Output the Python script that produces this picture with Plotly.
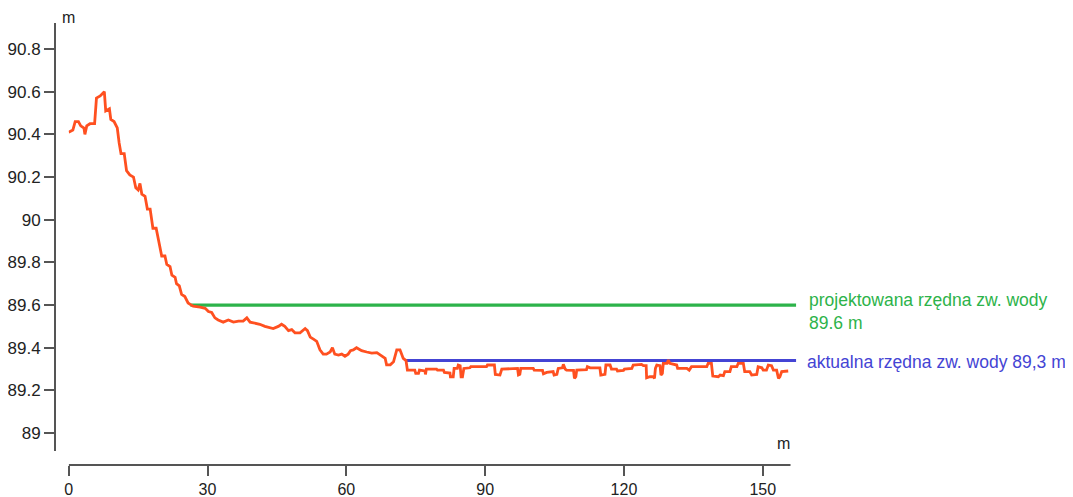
import plotly.graph_objects as go

# ---------------- data ----------------
profile_x = [
    0, 0.9, 1.4, 2.1, 2.6, 3.3, 3.5, 3.9, 4.6, 5.6, 6.0, 6.8, 7.7, 8.0, 8.8, 9.1, 9.8,
    10.5, 10.9, 11.3, 12.0, 12.5, 13.2, 14.0, 14.5, 15.0, 15.4, 15.8, 16.5, 17.0, 17.6,
    18.2, 18.9, 19.4, 19.7, 20.1, 20.8, 21.2, 21.9, 22.3, 23.0, 23.3, 23.9, 24.4, 25.1,
    25.8, 26.5,
    26.9, 28.4, 29.5, 30.2, 30.9, 31.6, 32.3, 33.4, 34.5, 35.6, 36.7, 37.7, 38.5, 39.2,
    40.3, 41.3, 42.4, 43.1, 44.2, 45.3, 46.0, 46.7, 47.5, 48.2, 48.9, 50.0, 51.1, 51.6,
    52.2, 52.9, 53.6, 54.3, 55.0, 55.7, 56.5, 57.0, 57.5, 58.3, 59.0, 59.7, 60.4, 60.9,
    61.5, 62.2, 63.3, 64.4, 65.5, 66.6, 67.6, 68.4, 68.7, 69.5, 70.2, 70.9, 71.6, 72.3,
    72.9, 73.2,
    74.8, 75.0, 75.6, 75.8, 77.0, 77.1, 77.3, 79.5, 79.7, 81.0, 81.2, 82.4, 82.5, 83.1,
    83.3, 84.0, 84.2, 84.6, 84.8, 85.1, 85.4, 86.7, 86.9, 90.3, 90.5, 92.0, 92.2, 93.2,
    93.6, 95.4, 97.0, 97.2, 97.5, 97.7, 100.4, 100.6, 102.4, 102.6, 103.3, 104.7, 104.9,
    105.5, 105.8, 106.7, 106.9, 107.3, 107.6, 109.1, 109.3, 109.6, 109.8, 111.9, 112.1,
    112.7, 114.8, 115.0, 115.9, 116.1, 117.0, 117.3, 118.4, 118.6, 119.9, 120.1, 121.7,
    122.0, 123.8, 124.2, 124.8, 124.9, 125.6, 126.4, 126.6, 126.8, 127.1, 127.8, 128.0,
    128.3, 128.5, 129.3, 129.6, 129.9, 131.4, 131.6, 133.6, 134.1, 134.6, 137.9, 138.2,
    138.9, 139.2, 140.4, 140.8, 141.5, 141.8, 142.9, 143.2, 144.4, 144.7, 145.8, 146.1,
    147.2, 147.6, 148.7, 149.0, 149.8, 150.1, 150.8, 151.2, 151.9, 152.3, 153.0, 153.4,
    153.7, 154.1, 155.5,
]
profile_y = [
    90.41, 90.42, 90.46, 90.46, 90.44, 90.43, 90.40, 90.44, 90.45, 90.45, 90.57, 90.58,
    90.60, 90.51, 90.52, 90.47, 90.46, 90.43, 90.36, 90.31, 90.31, 90.23, 90.21, 90.20,
    90.15, 90.14, 90.17, 90.12, 90.11, 90.05, 90.05, 89.96, 89.96, 89.90, 89.88, 89.83,
    89.83, 89.79, 89.78, 89.74, 89.73, 89.70, 89.69, 89.65, 89.64, 89.61, 89.60,
    89.595, 89.59, 89.585, 89.57, 89.565, 89.54, 89.53, 89.52, 89.53, 89.52, 89.525,
    89.525, 89.54, 89.52, 89.515, 89.51, 89.50, 89.495, 89.49, 89.50, 89.51, 89.50,
    89.48, 89.485, 89.47, 89.47, 89.49, 89.48, 89.45, 89.44, 89.43, 89.39, 89.37, 89.37,
    89.38, 89.40, 89.37, 89.366, 89.37, 89.36, 89.37, 89.386, 89.39, 89.40, 89.386,
    89.38, 89.375, 89.377, 89.364, 89.35, 89.32, 89.32, 89.334, 89.39, 89.39, 89.35,
    89.34, 89.295,
    89.295, 89.280, 89.280, 89.295, 89.291, 89.275, 89.300, 89.300, 89.295, 89.295,
    89.284, 89.281, 89.264, 89.264, 89.303, 89.303, 89.319, 89.316, 89.264, 89.264,
    89.303, 89.306, 89.311, 89.311, 89.319, 89.319, 89.275, 89.272, 89.300, 89.303,
    89.303, 89.272, 89.275, 89.303, 89.303, 89.295, 89.294, 89.278, 89.284, 89.288,
    89.272, 89.275, 89.303, 89.306, 89.322, 89.300, 89.295, 89.294, 89.256, 89.264,
    89.295, 89.297, 89.311, 89.306, 89.306, 89.272, 89.275, 89.319, 89.319, 89.300,
    89.300, 89.291, 89.294, 89.300, 89.303, 89.319, 89.322, 89.316, 89.316, 89.259,
    89.264, 89.264, 89.256, 89.303, 89.319, 89.316, 89.272, 89.280, 89.327, 89.327,
    89.342, 89.327, 89.319, 89.303, 89.303, 89.295, 89.311, 89.311, 89.327, 89.327,
    89.267, 89.264, 89.272, 89.269, 89.288, 89.288, 89.311, 89.311, 89.327, 89.327,
    89.288, 89.288, 89.272, 89.275, 89.311, 89.306, 89.295, 89.295, 89.319, 89.316,
    89.295, 89.295, 89.256, 89.264, 89.288, 89.291,
]

design_level_x = [26.3, 157.2]
design_level_y = [89.6, 89.6]
actual_level_x = [72.9, 157.2]
actual_level_y = [89.34, 89.34]

x_ticks = [0, 30, 60, 90, 120, 150]
y_ticks = [89, 89.2, 89.4, 89.6, 89.8, 90, 90.2, 90.4, 90.6, 90.8]

design_label = "projektowana rzędna zw. wody<br>89.6 m"
actual_label = "aktualna rzędna zw. wody 89,3 m"
unit_label = "m"

# ---------------- styling ----------------
FONT = "Arial, Liberation Sans, sans-serif"
AXIS_COLOR = "#555555"
TEXT_COLOR = "#222222"
ORANGE = "#ff5020"
GREEN = "#2db34a"
BLUE = "#4444d4"

# the page body adds an 8 px margin at the top-left of the figure
FIG_W, FIG_H = 1065, 489
PLOT_L, PLOT_T = 47, 15          # page px 55 / 23
PLOT_W, PLOT_H = 742, 442        # plot area size
X_RANGE = [0, 157.4]
Y_RANGE = [88.916, 90.922]
X_AXIS_END = 156

fig = go.Figure()

fig.add_trace(go.Scatter(x=design_level_x, y=design_level_y, mode="lines",
                         line=dict(color=GREEN, width=3.3), hoverinfo="skip"))
fig.add_trace(go.Scatter(x=actual_level_x, y=actual_level_y, mode="lines",
                         line=dict(color=BLUE, width=3), hoverinfo="skip"))
fig.add_trace(go.Scatter(x=profile_x, y=profile_y, mode="lines",
                         line=dict(color=ORANGE, width=2.8)))

fig.update_layout(
    width=FIG_W, height=FIG_H,
    margin=dict(l=PLOT_L, r=FIG_W - PLOT_L - PLOT_W, t=PLOT_T,
                b=FIG_H - PLOT_T - PLOT_H, autoexpand=False),
    plot_bgcolor="white", paper_bgcolor="white",
    showlegend=False,
    font=dict(family=FONT, size=17, color=TEXT_COLOR),
    xaxis=dict(
        domain=[13.7 / PLOT_W, 1], range=X_RANGE, anchor="free", position=0,
        automargin=False,
        showgrid=False, zeroline=False, showline=False,
        tickmode="array", tickvals=x_ticks,
        ticks="outside", ticklen=10, tickwidth=2, tickcolor=AXIS_COLOR,
        tickfont=dict(family=FONT, size=16, color=TEXT_COLOR),
    ),
    yaxis=dict(
        domain=[14 / PLOT_H, 1], range=Y_RANGE, anchor="free", position=0,
        automargin=False,
        showgrid=False, zeroline=False, showline=True,
        linecolor=AXIS_COLOR, linewidth=2,
        tickmode="array", tickvals=y_ticks,
        ticks="outside", ticklen=10, tickwidth=2, tickcolor=AXIS_COLOR,
        tickfont=dict(family=FONT, size=17, color=TEXT_COLOR),
    ),
)

# x axis line (stops at the end of the measured section, like the reference)
fig.add_shape(type="line", xref="x", yref="paper", x0=0, x1=X_AXIS_END, y0=0, y1=0,
              line=dict(color=AXIS_COLOR, width=2), layer="above")

# labels to the right of the plot area (paper coordinates)
fig.add_annotation(x=1 + 10 / PLOT_W, y=(442 - 288) / PLOT_H, xref="paper", yref="paper",
                   text=design_label, showarrow=False, xanchor="left", yanchor="middle",
                   align="left", font=dict(family=FONT, size=17.5, color=GREEN))
fig.add_annotation(x=1 + 8 / PLOT_W, y=(442 - 339) / PLOT_H, xref="paper", yref="paper",
                   text=actual_label, showarrow=False, xanchor="left", yanchor="middle",
                   align="left", font=dict(family=FONT, size=17.5, color=BLUE))
fig.add_annotation(x=13.7 / PLOT_W, y=1 + 6 / PLOT_H, xref="paper", yref="paper",
                   text=unit_label, showarrow=False, xanchor="center", yanchor="middle",
                   font=dict(family=FONT, size=16, color=TEXT_COLOR))
fig.add_annotation(x=728 / PLOT_W, y=22 / PLOT_H, xref="paper", yref="paper",
                   text=unit_label, showarrow=False, xanchor="center", yanchor="middle",
                   font=dict(family=FONT, size=16, color=TEXT_COLOR))

fig.write_html("out.html")
